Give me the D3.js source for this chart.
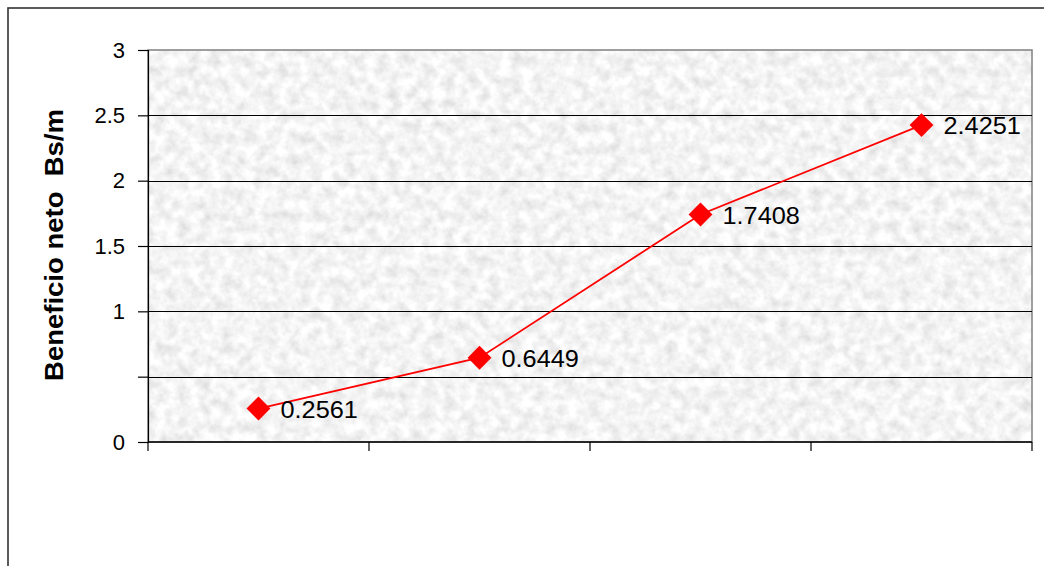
<!DOCTYPE html>
<html>
<head>
<meta charset="utf-8">
<script src="https://cdn.jsdelivr.net/npm/d3@7"></script>
<style>
  html, body { margin: 0; padding: 0; background: #fff; }
  svg { display: block; }
  text { font-family: "Liberation Sans", Arial, sans-serif; }
</style>
</head>
<body>
<div id="chart"></div>
<script>
// Net benefit per metre for four cases
const categories = ["1", "2", "3", "4"];
const values = [0.2561, 0.6449, 1.7408, 2.4251];
const valueLabels = ["0.2561", "0.6449", "1.7408", "2.4251"];
const yTicks = [0, 0.5, 1, 1.5, 2, 2.5, 3];
const yTickLabels = ["0", "", "1", "1.5", "2", "2.5", "3"];
const yTitle = "Beneficio neto  Bs/m";

const W = 1044, H = 566;
const plot = { left: 148, top: 50, right: 1032, bottom: 442 };
const FONT = 23;      // label size
const STRETCH = 1.1;  // glyphs are drawn slightly wide

const svg = d3.select("#chart").append("svg")
  .attr("width", W).attr("height", H);

// granite-like fill for the plot area
const defs = svg.append("defs");
const f = defs.append("filter").attr("id", "granite")
  .attr("x", 0).attr("y", 0).attr("width", 1).attr("height", 1);
f.append("feTurbulence").attr("type", "fractalNoise")
  .attr("baseFrequency", "0.09").attr("numOctaves", 3).attr("seed", 7)
  .attr("result", "noise");
f.append("feColorMatrix").attr("in", "noise").attr("type", "matrix")
  .attr("values",
    "0.45 0 0 0 0.68  0.45 0 0 0 0.68  0.45 0 0 0 0.68  0 0 0 0 1")
  .attr("result", "gray");
f.append("feComposite").attr("in", "gray").attr("in2", "SourceGraphic")
  .attr("operator", "in");

// outer chart frame (runs off the right and bottom edges)
svg.append("rect")
  .attr("x", 8).attr("y", 8).attr("width", W + 20).attr("height", H + 20)
  .attr("fill", "#fff").attr("stroke", "#333").attr("stroke-width", 1.6);

const x = d3.scaleBand().domain(categories)
  .range([plot.left, plot.right]);
const y = d3.scaleLinear().domain([0, 3])
  .range([plot.bottom, plot.top]);

// plot area background
svg.append("rect")
  .attr("x", plot.left).attr("y", plot.top)
  .attr("width", plot.right - plot.left).attr("height", plot.bottom - plot.top)
  .attr("fill", "#e8e8e8").attr("filter", "url(#granite)");
svg.append("rect")
  .attr("x", plot.left).attr("y", plot.top)
  .attr("width", plot.right - plot.left).attr("height", plot.bottom - plot.top)
  .attr("fill", "none").attr("stroke", "#808080").attr("stroke-width", 1.5);

// horizontal gridlines
svg.append("g").selectAll("line")
  .data(yTicks.filter(t => t > 0 && t < 3))
  .join("line")
  .attr("x1", plot.left).attr("x2", plot.right)
  .attr("y1", d => Math.round(y(d)) + 0.5).attr("y2", d => Math.round(y(d)) + 0.5)
  .attr("stroke", "#000").attr("stroke-width", 1);

// y axis
const yAxis = d3.axisLeft(y)
  .tickValues(yTicks)
  .tickFormat((d, i) => yTickLabels[i])
  .tickSize(10).tickPadding(14);
const gy = svg.append("g")
  .attr("transform", `translate(${plot.left},0)`)
  .call(yAxis);
gy.select(".domain").attr("stroke", "#000").attr("stroke-width", 1.2);
gy.selectAll(".tick line").attr("stroke", "#000").attr("stroke-width", 1.2);
gy.selectAll(".tick text")
  .attr("x", null).attr("dy", null)
  .attr("transform", "translate(-23,7)")
  .attr("font-size", 22).attr("fill", "#000")
  .attr("font-family", "Liberation Sans, Arial, sans-serif");

// x axis: tick marks at category boundaries, no labels
const bounds = categories.map(c => x(c)).concat([plot.right]);
svg.append("line")
  .attr("x1", plot.left).attr("x2", plot.right)
  .attr("y1", plot.bottom).attr("y2", plot.bottom)
  .attr("stroke", "#000").attr("stroke-width", 1.5);
svg.append("g").selectAll("line").data(bounds).join("line")
  .attr("x1", d => d).attr("x2", d => d)
  .attr("y1", plot.bottom).attr("y2", plot.bottom + 9)
  .attr("stroke", "#000").attr("stroke-width", 1.2);

// y axis title
svg.append("text")
  .attr("transform", `translate(63,245) rotate(-90) scale(${STRETCH},1)`)
  .attr("text-anchor", "middle")
  .attr("font-size", 25).attr("font-weight", "bold")
  .attr("fill", "#000")
  .style("white-space", "pre")
  .text(yTitle);

// series line
const cx = d => x(d) + x.bandwidth() / 2;
const line = d3.line()
  .x((d, i) => cx(categories[i]))
  .y(d => y(d));
svg.append("path")
  .datum(values)
  .attr("d", line)
  .attr("fill", "none").attr("stroke", "#ff0000").attr("stroke-width", 1.8);

// diamond markers
const diamond = d3.symbol().type(d3.symbolSquare).size(285);
svg.append("g").selectAll("path").data(values).join("path")
  .attr("d", diamond)
  .attr("transform", (d, i) => `translate(${cx(categories[i])},${y(d)}) rotate(45)`)
  .attr("fill", "#ff0000");

// value labels
svg.append("g").selectAll("text").data(values).join("text")
  .attr("transform", (d, i) =>
    `translate(${cx(categories[i]) + 22},${y(d) + 9}) scale(${STRETCH},1)`)
  .attr("font-size", FONT).attr("fill", "#000")
  .text((d, i) => valueLabels[i]);
</script>
</body>
</html>
